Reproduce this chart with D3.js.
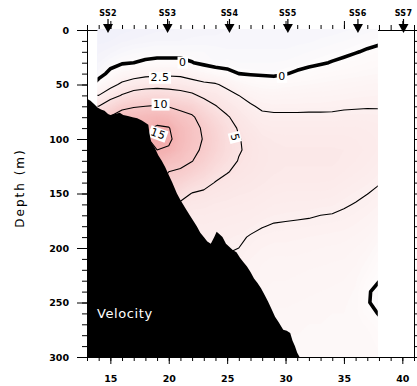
<!DOCTYPE html>
<html>
<head>
<meta charset="utf-8">
<script src="https://cdn.jsdelivr.net/npm/d3@7"></script>
<style>
  html, body { margin: 0; padding: 0; background: #fff; }
  svg { display: block; }
  text { font-family: "DejaVu Sans", sans-serif; }
</style>
</head>
<body>
<svg id="chart" width="417" height="386"></svg>
<script>
// Section grid: distance along the section (km) and depth (m)
const distanceKm = [14, 15, 16, 17, 18, 19, 20, 21, 22, 23, 24, 25, 26, 27, 28, 29, 30, 31, 32, 33, 34, 35, 36, 37, 38];
const depthM = [0, 10, 20, 30, 40, 50, 60, 70, 80, 90, 100, 110, 120, 130, 140, 150, 160, 170, 180, 190, 200, 210, 220, 230, 240, 250, 260, 270, 280, 290, 300];

// Velocity profiles (cm/s), one column per distance, top to bottom
const velocity = [
  [-1.8,-1.6,-1.3,-1.0,-0.6,0.7,2.5,5.0,8.0,10.5,12.0,12.0,11.5,10.5,9.5,8.5,7.5,6.5,5.5,5.0,4.5,4.0,3.8,3.6,3.4,3.2,3.0,2.8,2.6,2.4,2.2],
  [-1.7,-1.5,-1.1,-0.5,0.4,1.8,3.8,7.0,10.3,12.5,13.0,13.0,12.5,11.5,10.5,9.0,8.0,7.0,6.0,5.5,5.0,4.5,4.2,4.0,3.8,3.6,3.4,3.2,3.0,2.8,2.6],
  [-1.6,-1.3,-0.8,-0.15,1.2,2.9,5.2,9.0,12.0,13.5,14.0,14.0,13.5,12.5,11.0,9.5,8.5,7.5,6.5,5.8,5.2,4.8,4.4,4.1,3.9,3.7,3.5,3.3,3.1,2.9,2.7],
  [-1.5,-1.2,-0.6,0.0,1.6,3.5,6.2,9.7,12.5,14.2,14.8,14.8,14.2,13.0,11.5,10.0,9.0,8.0,7.0,6.2,5.5,5.0,4.6,4.3,4.0,3.8,3.6,3.4,3.2,3.0,2.8],
  [-1.4,-1.1,-0.5,0.2,1.9,3.9,6.6,10.0,13.0,14.3,14.6,14.4,13.6,12.5,11.2,10.0,9.0,8.0,7.2,6.5,5.8,5.2,4.8,4.4,4.1,3.9,3.7,3.5,3.3,3.1,2.9],
  [-1.3,-1.0,-0.4,0.3,2.0,4.0,6.8,10.3,13.5,15.5,16.0,15.0,13.5,12.0,10.8,9.6,8.6,7.6,6.8,6.1,5.5,5.0,4.6,4.3,4.0,3.8,3.6,3.4,3.2,3.0,2.8],
  [-1.3,-1.0,-0.4,0.3,2.1,3.9,6.5,9.8,13.0,15.2,15.8,14.5,12.0,10.0,8.5,7.4,6.4,5.6,5.0,4.5,4.1,3.8,3.5,3.3,3.1,2.9,2.7,2.5,2.3,2.1,2.0],
  [-1.2,-1.0,-0.4,0.3,2.0,3.8,6.0,9.0,11.5,12.8,13.0,12.5,11.2,9.5,7.8,6.0,4.6,4.0,3.6,3.3,3.1,2.9,2.7,2.5,2.3,2.1,1.9,1.8,1.7,1.6,1.5],
  [-1.2,-0.9,-0.5,0.05,1.6,3.3,5.5,8.2,10.5,11.2,11.3,10.8,10.1,8.5,6.6,4.9,4.0,3.5,3.2,3.0,2.8,2.6,2.4,2.2,2.0,1.9,1.8,1.7,1.6,1.5,1.4],
  [-1.1,-0.9,-0.5,-0.3,1.2,2.9,4.4,6.5,8.3,9.5,9.8,9.5,8.6,7.3,5.8,4.6,3.9,3.5,3.2,3.0,2.8,2.6,2.4,2.2,2.0,1.9,1.8,1.7,1.6,1.5,1.4],
  [-1.1,-0.9,-0.6,-0.5,0.7,2.7,4.0,5.1,6.6,7.6,8.0,7.8,7.0,5.9,4.9,4.2,3.7,3.4,3.1,2.9,2.7,2.5,2.3,2.1,2.0,1.9,1.8,1.7,1.6,1.5,1.4],
  [-1.0,-0.9,-0.7,-0.4,0.3,2.0,3.2,4.3,5.2,5.9,6.2,6.2,5.8,5.1,4.5,4.0,3.6,3.3,3.0,2.8,2.6,2.4,2.2,2.0,1.9,1.8,1.7,1.6,1.5,1.4,1.3],
  [-1.0,-0.9,-0.7,-0.5,0.0,1.3,2.5,3.5,4.3,4.8,5.1,5.15,4.9,4.6,4.2,3.8,3.5,3.2,2.9,2.7,2.5,2.3,2.1,1.9,1.8,1.7,1.6,1.5,1.4,1.3,1.2],
  [-1.0,-0.9,-0.7,-0.5,-0.1,0.9,1.9,2.7,3.5,4.1,4.5,4.6,4.5,4.3,4.0,3.7,3.4,3.1,2.8,2.4,2.2,2.0,1.9,1.8,1.7,1.6,1.5,1.4,1.3,1.2,1.1],
  [-1.0,-0.9,-0.7,-0.5,-0.15,0.7,1.6,2.2,2.9,3.5,3.9,4.1,4.1,4.0,3.8,3.5,3.2,2.9,2.55,2.2,2.0,1.8,1.7,1.6,1.5,1.4,1.3,1.2,1.1,1.0,0.9],
  [-1.0,-0.9,-0.7,-0.5,-0.2,0.6,1.5,2.1,2.8,3.3,3.7,3.9,3.9,3.8,3.6,3.3,3.0,2.75,2.4,2.1,1.9,1.7,1.6,1.5,1.4,1.3,1.2,1.1,1.0,0.9,0.8],
  [-1.0,-0.9,-0.7,-0.45,-0.05,0.8,1.6,2.1,2.8,3.3,3.6,3.8,3.8,3.7,3.5,3.2,2.95,2.7,2.35,2.1,1.9,1.7,1.6,1.5,1.4,1.3,1.2,1.1,1.0,0.9,0.8],
  [-1.0,-0.85,-0.6,-0.35,0.15,0.9,1.6,2.1,2.8,3.3,3.6,3.8,3.8,3.7,3.5,3.2,2.9,2.65,2.3,2.05,1.85,1.7,1.55,1.45,1.35,1.25,1.15,1.05,1.0,0.9,0.8],
  [-1.0,-0.8,-0.5,-0.2,0.3,1.0,1.7,2.15,2.8,3.3,3.6,3.8,3.8,3.7,3.5,3.2,2.9,2.6,2.25,2.0,1.8,1.65,1.5,1.4,1.3,1.2,1.1,1.0,0.95,0.9,0.85],
  [-0.9,-0.7,-0.4,-0.1,0.5,1.1,1.7,2.15,2.8,3.3,3.6,3.8,3.8,3.7,3.5,3.2,2.85,2.5,2.2,1.95,1.75,1.6,1.45,1.35,1.25,1.15,1.05,1.0,0.95,0.9,0.85],
  [-0.9,-0.6,-0.3,0.05,0.6,1.2,1.75,2.2,2.8,3.3,3.6,3.8,3.8,3.7,3.45,3.1,2.8,2.45,2.15,1.9,1.7,1.55,1.4,1.3,1.2,1.1,1.0,0.95,0.9,0.85,0.8],
  [-0.8,-0.5,-0.2,0.2,0.7,1.3,1.8,2.3,2.9,3.3,3.6,3.75,3.7,3.5,3.2,2.9,2.6,2.35,2.1,1.85,1.65,1.5,1.35,1.25,1.15,1.05,1.0,0.95,0.9,0.85,0.8],
  [-0.7,-0.4,-0.05,0.35,0.8,1.4,1.9,2.35,2.9,3.3,3.5,3.6,3.5,3.3,3.0,2.7,2.45,2.2,1.95,1.7,1.5,1.35,1.2,1.05,0.95,0.9,0.85,0.85,0.8,0.8,0.75],
  [-0.6,-0.25,0.1,0.5,0.9,1.5,1.95,2.4,2.9,3.2,3.4,3.45,3.3,3.05,2.8,2.52,2.25,2.0,1.75,1.5,1.25,1.0,0.75,0.4,0.12,0.1,0.35,0.7,0.85,0.9,0.9],
  [-0.5,-0.15,0.25,0.6,1.0,1.55,2.0,2.4,2.85,3.1,3.2,3.2,3.0,2.8,2.56,2.3,2.0,1.7,1.4,1.1,0.8,0.5,0.25,0.03,-0.3,-0.35,-0.05,0.3,0.55,0.7,0.8]
];

// Sea floor along the section
const bathyKm = [13.0, 13.3, 13.6, 13.9, 14.2, 14.5, 14.8, 15.0, 15.4, 15.8, 16.1, 16.5, 16.9, 17.3, 17.7, 18.0, 18.25, 18.35, 18.5, 18.8, 19.1, 19.4, 19.7, 20.0, 20.3, 20.7, 21.0, 21.4, 21.8, 22.1, 22.4, 22.7, 23.0, 23.3, 23.6, 23.9, 24.1, 24.3, 24.6, 24.9, 25.2, 25.5, 25.8, 26.1, 26.4, 26.7, 27.0, 27.3, 27.6, 27.9, 28.2, 28.5, 28.8, 29.1, 29.4, 29.8, 30.1, 30.4, 30.6, 30.8, 31.0, 31.2];
const bathyDepth = [63, 65, 68, 71, 73, 74, 77, 78, 77, 76, 78, 79, 80, 81, 83, 85, 87, 95, 103, 108, 115, 120, 126, 133, 140, 150, 156, 163, 170, 175, 180, 186, 190, 194, 196, 190, 185, 187, 190, 196, 199, 202, 204, 209, 213, 217, 222, 228, 232, 237, 243, 249, 256, 263, 268, 275, 276, 278, 285, 290, 296, 300];

// CTD stations
const stationNames = ["SS2", "SS3", "SS4", "SS5", "SS6", "SS7"];
const stationKm = [14.8, 19.9, 25.2, 30.2, 36.2, 40.1];

// Axis ticks and contour levels
const depthTicks = [0, 50, 100, 150, 200, 250, 300];
const distanceTicks = [15, 20, 25, 30, 35, 40];
const contourLevels = [0, 2.5, 5, 10, 15];

// Contour label annotations
const labelText = ["0", "2.5", "10", "15", "5", "0"];
const labelKm = [21.2, 19.25, 19.3, 19.1, 25.7, 29.7];
const labelDepth = [29.5, 43.4, 68, 95, 98.4, 42.5];
const labelAngle = [0, 0, 0, 20, 75, 0];

const svg = d3.select("#chart");
const x = d3.scaleLinear().domain([13, 41]).range([87, 414]);
const y = d3.scaleLinear().domain([0, 300]).range([30, 357]);

const color = d3.scaleLinear()
  .domain([-2, 0, 16])
  .range(["#eeeef9", "#fefcfc", "#f3abab"])
  .clamp(true);

// Flatten the columns into a row-major grid for d3.contours
const nx = distanceKm.length, ny = depthM.length;
const grid = new Array(nx * ny);
for (let j = 0; j < ny; j++)
  for (let i = 0; i < nx; i++) grid[j * nx + i] = velocity[i][j];

const dKm = distanceKm[1] - distanceKm[0];
const dDep = depthM[1] - depthM[0];
const gridToScreen = d3.geoTransform({
  point(gx, gy) {
    this.stream.point(x(distanceKm[0] + (gx - 0.5) * dKm), y(depthM[0] + (gy - 0.5) * dDep));
  }
});
const path = d3.geoPath(gridToScreen);

const defs = svg.append("defs");
defs.append("clipPath").attr("id", "field-clip")
  .append("rect")
  .attr("x", x(13.9)).attr("y", y(0) - 1)
  .attr("width", x(37.9) - x(13.9))
  .attr("height", y(300) - y(0) + 1);

// Axes (drawn first so the field covers the top frame line)
function styleAxis(g) {
  g.selectAll("path.domain").attr("stroke", "#000").attr("stroke-width", 1);
  g.selectAll(".tick line").attr("stroke", "#000").attr("stroke-width", 1);
  g.selectAll(".tick text").attr("fill", "#000")
    .style("font-family", "'DejaVu Sans', sans-serif")
    .style("font-size", "9.5px").style("font-weight", "bold");
}
const minorDepth = d3.range(0, 301, 10);
const minorDist = d3.range(13, 42, 1);

svg.append("g").attr("transform", `translate(${x(13)},0)`)
  .call(d3.axisLeft(y).tickValues(minorDepth).tickSize(5).tickSizeOuter(0).tickFormat(""))
  .call(styleAxis);
svg.append("g").attr("transform", `translate(${x(13)},0)`)
  .call(d3.axisLeft(y).tickValues(depthTicks).tickSize(10).tickSizeOuter(0).tickPadding(8))
  .call(styleAxis);

svg.append("g").attr("transform", `translate(${x(41)},0)`)
  .call(d3.axisRight(y).tickValues(minorDepth).tickSize(4).tickSizeOuter(0).tickFormat(""))
  .call(styleAxis);

svg.append("g").attr("transform", `translate(0,${y(300)})`)
  .call(d3.axisBottom(x).tickValues(minorDist).tickSize(4).tickSizeOuter(0).tickFormat(""))
  .call(styleAxis);
svg.append("g").attr("transform", `translate(0,${y(300)})`)
  .call(d3.axisBottom(x).tickValues(distanceTicks).tickSize(7).tickSizeOuter(0).tickPadding(11))
  .call(styleAxis);

svg.append("g").attr("transform", `translate(0,${y(0)})`)
  .call(d3.axisTop(x).tickValues(minorDist).tickSize(5).tickSizeOuter(0).tickFormat(""))
  .call(styleAxis);
svg.append("g").attr("transform", `translate(0,${y(0)})`)
  .call(d3.axisTop(x).tickValues(distanceTicks).tickSize(9).tickSizeOuter(0).tickFormat(""))
  .call(styleAxis);

// Colour field
const field = svg.append("g").attr("clip-path", "url(#field-clip)");
field.append("rect")
  .attr("x", x(13.9)).attr("y", y(0) - 1)
  .attr("width", x(37.9) - x(13.9)).attr("height", y(300) - y(0) + 1)
  .attr("fill", color(-2));
const bandStep = 0.25;
const bands = d3.contours().size([nx, ny]).thresholds(d3.range(-2, 16.5, bandStep))(grid);
field.selectAll("path.band").data(bands).join("path")
  .attr("class", "band")
  .attr("d", path)
  .attr("fill", d => color(d.value + bandStep / 2))
  .attr("stroke", "none");

// Isolines
const isolines = d3.contours().size([nx, ny]).thresholds(contourLevels)(grid);
field.selectAll("path.iso").data(isolines).join("path")
  .attr("class", "iso")
  .attr("d", path)
  .attr("fill", "none")
  .attr("stroke", "#000")
  .attr("stroke-linejoin", "round")
  .attr("stroke-width", d => d.value === 0 ? 3.6 : 1.1);

// Contour labels on white boxes
const labels = svg.append("g");
labelText.forEach((t, i) => {
  const g = labels.append("g")
    .attr("transform", `translate(${x(labelKm[i])},${y(labelDepth[i])}) rotate(${labelAngle[i]})`);
  const txt = g.append("text")
    .attr("text-anchor", "middle").attr("dy", "0.36em")
    .style("font-size", "11px").style("letter-spacing", "0.5px")
    .attr("fill", "#000").text(t);
  const bb = txt.node().getBBox();
  g.insert("rect", "text")
    .attr("x", bb.x - 1.5).attr("y", bb.y + 0.5)
    .attr("width", bb.width + 3).attr("height", bb.height - 1)
    .attr("fill", "#fff");
});

// Sea floor
const floorArea = d3.area()
  .x(d => x(d[0]))
  .y0(y(300))
  .y1(d => y(d[1]));
svg.append("path")
  .datum(bathyKm.map((k, i) => [k, bathyDepth[i]]))
  .attr("d", floorArea)
  .attr("fill", "#000");

svg.append("text")
  .attr("x", 97).attr("y", 318)
  .attr("fill", "#fff")
  .style("font-size", "13px").style("letter-spacing", "0.6px")
  .text("Velocity");

// Station markers
const st = svg.append("g");
stationNames.forEach((name, i) => {
  const cx = x(stationKm[i]);
  st.append("text")
    .attr("x", cx).attr("y", 16)
    .attr("text-anchor", "middle")
    .style("font-size", "8px").style("font-weight", "bold").style("letter-spacing", "0.3px")
    .text(name);
  st.append("line")
    .attr("x1", cx).attr("x2", cx).attr("y1", 19).attr("y2", 25)
    .attr("stroke", "#000").attr("stroke-width", 1.2);
  st.append("path")
    .attr("d", `M${cx - 5},${24}L${cx + 5},${24}L${cx},${33}Z`)
    .attr("fill", "#000");
});

// Axis title
svg.append("text")
  .attr("transform", `translate(24,188) rotate(-90)`)
  .attr("text-anchor", "middle")
  .style("font-size", "12px").style("letter-spacing", "2px")
  .text("Depth (m)");
</script>
</body>
</html>
